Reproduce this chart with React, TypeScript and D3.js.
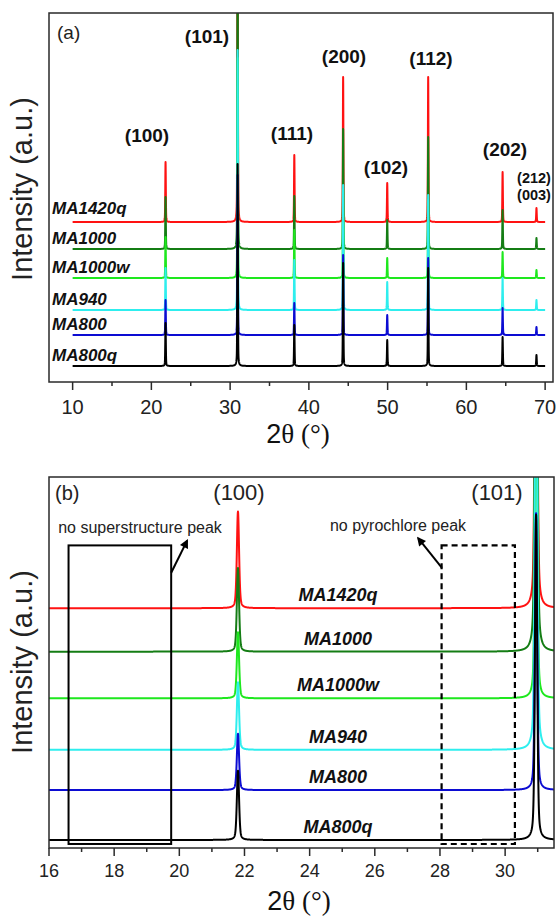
import React from "react";
import * as d3 from "d3";

// ---------------- data ----------------
const SAMPLES = ["MA1420q", "MA1000", "MA1000w", "MA940", "MA800", "MA800q"];
const COLORS = ["#ff1212", "#147d14", "#1ee81e", "#2eeeee", "#0c0cd2", "#000000"];
// vertical offsets of each pattern (intensity units)
const OFFSETS = [144, 117, 88, 56, 31, 0];
// reflection positions (2θ, degrees)
const PEAK_POS = [21.8, 30.95, 38.15, 44.35, 49.95, 55.15, 64.6, 68.9];
// peak heights, one row per sample, one column per reflection
const HEIGHTS_A = [
  [60, 360, 67, 145, 39, 145, 50, 14],
  [52, 340, 53, 120, 29, 112, 39, 11],
  [41, 220, 48, 88, 20, 78, 26, 8],
  [42, 260, 50, 125, 28, 115, 32, 10],
  [35, 160, 32, 80, 20, 77, 27, 8],
  [43, 202, 41, 103, 26, 98, 29, 11],
];
// (101) heights
const HEIGHTS_B_101 = [330, 360, 230, 340, 172, 202];
const HWHM = 0.04;
const ETA = 0.4; // Lorentzian fraction of the pseudo-Voigt profile

const TICKS_A_MAJOR = [10, 20, 30, 40, 50, 60, 70];
const TICKS_A_MINOR = [15, 25, 35, 45, 55, 65];
const TICKS_B_MAJOR = [16, 18, 20, 22, 24, 26, 28, 30];
const TICKS_B_MINOR = [17, 19, 21, 23, 25, 27, 29, 31];

// boxes / arrows in panel (b), data units
const BOX_SOLID = [16.6, 19.75, -2.5, 183];
const BOX_DASHED = [28.05, 30.3, -2.5, 183];
const ARROW_SOLID = [19.75, 166, 20.24, 186];
const ARROW_DASHED = [28.06, 169, 27.33, 187.5];

// ---------------- helpers ----------------
type Pt = [number, number];
function pattern(x0: number, x1: number, step: number, offset: number, peaks: Pt[]): Pt[] {
  const xs = d3.range(x0, x1 + step / 2, step);
  peaks.forEach(([p]) => {
    if (p >= x0 && p <= x1) xs.push(p);
  });
  xs.sort((a, b) => a - b);
  return xs.map((x) => {
    let v = offset;
    for (const [p, h] of peaks) {
      const t = (x - p) / HWHM;
      const lor = 1 / (1 + t * t);
      const gau = Math.exp(-Math.LN2 * t * t);
      v += h * (ETA * lor + (1 - ETA) * gau);
    }
    return [x, v] as Pt;
  });
}

const SANS = "'Liberation Sans', Arial, Helvetica, sans-serif";
const SERIF = "'Liberation Serif', 'Times New Roman', serif";

export default function App() {
  const W = 559, H = 919;
  const A = { l: 49, r: 553, t: 13, b: 382 };
  const B = { l: 49, r: 554, t: 477, b: 848 };
  const xA = d3.scaleLinear().domain([7, 71]).range([A.l, A.r]);
  const yA = d3.scaleLinear().domain([-16, 353]).range([A.b, A.t]);
  const xB = d3.scaleLinear().domain([16, 31.5]).range([B.l, B.r]);
  const yB = d3.scaleLinear().domain([-5, 225.5]).range([B.b, B.t]);

  const lineA = d3.line<Pt>().x((d) => xA(d[0])).y((d) => yA(d[1]));
  const lineB = d3.line<Pt>().x((d) => xB(d[0])).y((d) => yB(d[1]));

  const tracesA = SAMPLES.map((s, i) =>
    pattern(10, 70, 0.01, OFFSETS[i], PEAK_POS.map((p, j) => [p, HEIGHTS_A[i][j]] as Pt))
  );
  const tracesB = SAMPLES.map((s, i) =>
    pattern(
      16,
      31.5,
      0.004,
      OFFSETS[i],
      PEAK_POS.map((p, j) => [p, j === 1 ? HEIGHTS_B_101[i] : HEIGHTS_A[i][j]] as Pt)
    )
  );

  const frameStroke = "#2a2a2a";

  return (
    <svg
      width={W}
      height={H}
      viewBox={`0 0 ${W} ${H}`}
      style={{ position: "absolute", left: 0, top: 0, background: "#fff" }}
    >
      <defs>
        <clipPath id="clipA">
          <rect x={A.l} y={A.t} width={A.r - A.l} height={A.b - A.t} />
        </clipPath>
        <clipPath id="clipB">
          <rect x={B.l} y={B.t} width={B.r - B.l} height={B.b - B.t} />
        </clipPath>
        <marker id="arrowHead" viewBox="0 0 10 10" refX="8" refY="5" markerWidth="5" markerHeight="4.5" orient="auto">
          <path d="M0,0 L10,5 L0,10 z" fill="#000" />
        </marker>
      </defs>

      {/* ================= Panel (a) ================= */}
      <g clipPath="url(#clipA)">
        {tracesA.map((t, i) => (
          <path key={i} d={lineA(t) || ""} fill="none" stroke={COLORS[i]} strokeWidth={2} strokeLinejoin="round" />
        ))}
      </g>
      <rect x={A.l} y={A.t} width={A.r - A.l} height={A.b - A.t} fill="none" stroke={frameStroke} strokeWidth={1.5} />
      {TICKS_A_MAJOR.map((v) => (
        <g key={"am" + v}>
          <line x1={xA(v)} x2={xA(v)} y1={A.b} y2={A.b + 8} stroke={frameStroke} strokeWidth={1.5} />
          <text x={xA(v)} y={A.b + 32} textAnchor="middle" fontFamily={SANS} fontSize={20} fill="#222">
            {v}
          </text>
        </g>
      ))}
      {TICKS_A_MINOR.map((v) => (
        <line key={"an" + v} x1={xA(v)} x2={xA(v)} y1={A.b} y2={A.b + 4} stroke={frameStroke} strokeWidth={1.5} />
      ))}
      <text x={298} y={443} textAnchor="middle" fontSize={27} fill="#111">
        <tspan fontFamily={SANS}>2</tspan>
        <tspan fontFamily={SERIF}>θ (°)</tspan>
      </text>
      <text transform="translate(32,189) rotate(-90)" textAnchor="middle" fontFamily={SANS} fontSize={29} fill="#222">
        Intensity (a.u.)
      </text>
      <text x={57} y={39} fontFamily={SANS} fontSize={19} fill="#222">(a)</text>

      {SAMPLES.map((s, i) => (
        <text
          key={"la" + s}
          x={52}
          y={yA(OFFSETS[i]) - (i === 0 ? 8 : 5)}
          fontFamily={SANS}
          fontSize={17}
          fontWeight="bold"
          fontStyle="italic"
          fill="#111"
        >
          {s}
        </text>
      ))}

      <g fontFamily={SANS} fontWeight="bold" fontSize={19} fill="#111" textAnchor="middle">
        <text x={147} y={142}>(100)</text>
        <text x={207} y={43}>(101)</text>
        <text x={292} y={140}>(111)</text>
        <text x={344} y={63}>(200)</text>
        <text x={386} y={174}>(102)</text>
        <text x={431} y={65}>(112)</text>
        <text x={505} y={156}>(202)</text>
        <text x={534} y={183} fontSize={14.5}>(212)</text>
        <text x={534} y={200} fontSize={14.5}>(003)</text>
      </g>

      {/* ================= Panel (b) ================= */}
      <g clipPath="url(#clipB)">
        {tracesB.map((t, i) => (
          <path key={i} d={lineB(t) || ""} fill="none" stroke={COLORS[i]} strokeWidth={2} strokeLinejoin="round" />
        ))}
      </g>
      <rect x={B.l} y={B.t} width={B.r - B.l} height={B.b - B.t} fill="none" stroke={frameStroke} strokeWidth={1.5} />
      {TICKS_B_MAJOR.map((v) => (
        <g key={"bm" + v}>
          <line x1={xB(v)} x2={xB(v)} y1={B.b} y2={B.b + 8} stroke={frameStroke} strokeWidth={1.5} />
          <text x={xB(v)} y={B.b + 29} textAnchor="middle" fontFamily={SANS} fontSize={18} fill="#222">
            {v}
          </text>
        </g>
      ))}
      {TICKS_B_MINOR.map((v) => (
        <line key={"bn" + v} x1={xB(v)} x2={xB(v)} y1={B.b} y2={B.b + 4} stroke={frameStroke} strokeWidth={1.5} />
      ))}
      <text x={299} y={910} textAnchor="middle" fontSize={27} fill="#111">
        <tspan fontFamily={SANS}>2</tspan>
        <tspan fontFamily={SERIF}>θ (°)</tspan>
      </text>
      <text transform="translate(32,662) rotate(-90)" textAnchor="middle" fontFamily={SANS} fontSize={29} fill="#222">
        Intensity (a.u.)
      </text>
      <text x={55} y={500} fontFamily={SANS} fontSize={20} fill="#222">(b)</text>
      <text x={239} y={500} textAnchor="middle" fontFamily={SANS} fontSize={22} fill="#222">(100)</text>
      <text x={497} y={500} textAnchor="middle" fontFamily={SANS} fontSize={22} fill="#222">(101)</text>

      {/* boxes and arrows */}
      <rect
        x={xB(BOX_SOLID[0])}
        y={yB(BOX_SOLID[3])}
        width={xB(BOX_SOLID[1]) - xB(BOX_SOLID[0])}
        height={yB(BOX_SOLID[2]) - yB(BOX_SOLID[3])}
        fill="none"
        stroke="#000"
        strokeWidth={2}
      />
      <rect
        x={xB(BOX_DASHED[0])}
        y={yB(BOX_DASHED[3])}
        width={xB(BOX_DASHED[1]) - xB(BOX_DASHED[0])}
        height={yB(BOX_DASHED[2]) - yB(BOX_DASHED[3])}
        fill="none"
        stroke="#000"
        strokeWidth={2.2}
        strokeDasharray="6 4"
      />
      <line
        x1={xB(ARROW_SOLID[0])}
        y1={yB(ARROW_SOLID[1])}
        x2={xB(ARROW_SOLID[2])}
        y2={yB(ARROW_SOLID[3])}
        stroke="#000"
        strokeWidth={2}
        markerEnd="url(#arrowHead)"
      />
      <line
        x1={xB(ARROW_DASHED[0])}
        y1={yB(ARROW_DASHED[1])}
        x2={xB(ARROW_DASHED[2])}
        y2={yB(ARROW_DASHED[3])}
        stroke="#000"
        strokeWidth={2}
        markerEnd="url(#arrowHead)"
      />
      <text x={140} y={533} textAnchor="middle" fontFamily={SANS} fontSize={16} fill="#222">
        no superstructure peak
      </text>
      <text x={398} y={531} textAnchor="middle" fontFamily={SANS} fontSize={16} fill="#222">
        no pyrochlore peak
      </text>

      {SAMPLES.map((s, i) => (
        <text
          key={"lb" + s}
          x={338}
          y={yB(OFFSETS[i]) - 7}
          textAnchor="middle"
          fontFamily={SANS}
          fontSize={18}
          fontWeight="bold"
          fontStyle="italic"
          fill="#111"
        >
          {s}
        </text>
      ))}
    </svg>
  );
}
